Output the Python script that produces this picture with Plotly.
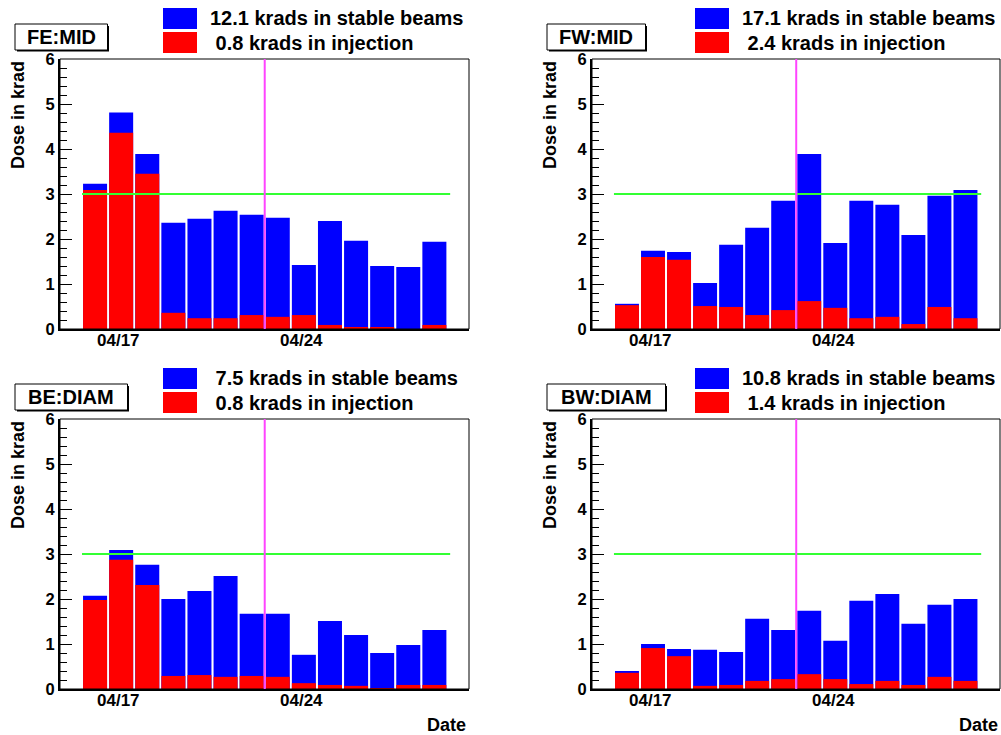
import pandas as pd
import plotly.graph_objects as go
from plotly.subplots import make_subplots

# ---------------- data ----------------
panels = ["FE:MID", "FW:MID", "BE:DIAM", "BW:DIAM"]
bin_start = ["2012-04-15 14:00", "2012-04-16 14:00", "2012-04-17 14:00", "2012-04-18 14:00",
             "2012-04-19 14:00", "2012-04-20 14:00", "2012-04-21 14:00", "2012-04-22 14:00",
             "2012-04-23 14:00", "2012-04-24 14:00", "2012-04-25 14:00", "2012-04-26 14:00",
             "2012-04-27 14:00", "2012-04-28 14:00"]

fe_total = [3.23, 4.81, 3.89, 2.36, 2.45, 2.63, 2.54, 2.47, 1.42, 2.40, 1.96, 1.40, 1.38, 1.94]
fe_inj = [3.09, 4.36, 3.45, 0.36, 0.24, 0.24, 0.31, 0.27, 0.31, 0.09, 0.04, 0.04, 0.00, 0.09]
fw_total = [0.56, 1.74, 1.71, 1.02, 1.87, 2.25, 2.85, 3.89, 1.91, 2.85, 2.76, 2.09, 2.96, 3.09]
fw_inj = [0.53, 1.60, 1.54, 0.51, 0.49, 0.31, 0.42, 0.62, 0.47, 0.24, 0.27, 0.11, 0.49, 0.24]
be_total = [2.07, 3.09, 2.76, 2.00, 2.18, 2.51, 1.67, 1.67, 0.76, 1.51, 1.20, 0.80, 0.98, 1.31]
be_inj = [1.98, 2.87, 2.31, 0.29, 0.31, 0.27, 0.29, 0.27, 0.13, 0.09, 0.07, 0.02, 0.09, 0.09]
bw_total = [0.40, 1.00, 0.89, 0.87, 0.82, 1.56, 1.31, 1.74, 1.07, 1.96, 2.11, 1.45, 1.87, 2.00]
bw_inj = [0.36, 0.91, 0.73, 0.07, 0.09, 0.18, 0.22, 0.33, 0.22, 0.11, 0.18, 0.09, 0.27, 0.18]

stable_sum = [12.1, 17.1, 7.5, 10.8]
injection_sum = [0.8, 2.4, 0.8, 1.4]

tick_dates = ["2012-04-17", "2012-04-24"]
tick_labels = ["04/17", "04/24"]
threshold = 3.0
threshold_end = "2012-04-29 16:30"
marker_time = "2012-04-22 14:00"
x_range = ["2012-04-14 17:46", "2012-04-30 09:50"]

# ---------------- figure ----------------
W, H = 1001, 735
FONT = "Liberation Sans"
BLUE, RED = "#0000ff", "#ff0000"

series = [(fe_total, fe_inj), (fw_total, fw_inj), (be_total, be_inj), (bw_total, bw_inj)]
centers = pd.to_datetime(bin_start) + pd.Timedelta(hours=12)
bar_w = 0.92 * 86400000


def px(x):
    return x / W


def py(y):
    return 1 - y / H


fig = make_subplots(rows=2, cols=2)

col_dom = [[60 / W, 469 / W], [592 / W, 1000 / W]]
row_dom = [[py(329), py(59)], [py(689), py(419)]]
box_w = [94, 100, 114, 120]

shapes = []
annotations = []
nbsp = "\u00a0"

for i, name in enumerate(panels):
    r, c = i // 2 + 1, i % 2 + 1
    tot, inj = series[i]
    fig.add_trace(go.Bar(x=centers, y=tot, width=bar_w, marker=dict(color=BLUE, line=dict(width=0)),
                         showlegend=False, hoverinfo="skip"), row=r, col=c)
    fig.add_trace(go.Bar(x=centers, y=inj, width=bar_w, marker=dict(color=RED, line=dict(width=0)),
                         showlegend=False, hoverinfo="skip"), row=r, col=c)

    sfx = "" if i == 0 else str(i + 1)
    xa, ya = "x" + sfx, "y" + sfx
    fig.layout["xaxis" + sfx].update(
        domain=col_dom[c - 1], type="date", range=x_range, showticklabels=False, automargin=False,
        ticks="", showline=True, linewidth=2, linecolor="black", showgrid=False, zeroline=False)
    fig.layout["yaxis" + sfx].update(
        domain=row_dom[r - 1], range=[0, 6], dtick=1, ticks="inside", ticklen=12, tickwidth=1,
        tickcolor="black", showline=True, linewidth=2, linecolor="black", showgrid=False, zeroline=False,
        automargin=False,
        minor=dict(ticks="inside", ticklen=7, dtick=0.2, tickcolor="black", tickwidth=1, showgrid=False),
        tickfont=dict(family=FONT, size=16.5, color="black", weight="bold"))

    dx = 0 if c == 1 else 532
    dy = 0 if r == 1 else 360

    # x tick labels
    for td, tl in zip(tick_dates, tick_labels):
        annotations.append(dict(text=tl, xref=xa, yref="paper", x=td, y=py(340 + dy),
                                xanchor="center", yanchor="middle", showarrow=False,
                                font=dict(family=FONT, size=17, color="black", weight="bold")))

    # frame
    shapes.append(dict(type="rect", xref=xa + " domain", yref=ya + " domain", x0=0, x1=1, y0=0, y1=1,
                       line=dict(color="black", width=1), layer="above"))
    # threshold line
    shapes.append(dict(type="line", xref=xa, yref=ya, x0=bin_start[0], x1=threshold_end,
                       y0=threshold, y1=threshold, line=dict(color="#33ff33", width=2), layer="above"))
    # marker line
    shapes.append(dict(type="line", xref=xa, yref=ya + " domain", x0=marker_time, x1=marker_time,
                       y0=0, y1=1, line=dict(color="#ff44ff", width=2), layer="above"))

    # title box with shadow
    bw = box_w[i]
    shapes.append(dict(type="rect", xref="paper", yref="paper",
                       x0=px(17 + dx), x1=px(15 + dx + bw), y0=py(51.5 + dy), y1=py(26 + dy),
                       fillcolor="black", line=dict(width=0)))
    shapes.append(dict(type="rect", xref="paper", yref="paper",
                       x0=px(15 + dx), x1=px(13.5 + dx + bw), y0=py(50 + dy), y1=py(24 + dy),
                       fillcolor="white", line=dict(color="black", width=1)))
    annotations.append(dict(text=name, xref="paper", yref="paper", x=px(15 + dx + bw / 2 - 1),
                            y=py(37 + dy), xanchor="center", yanchor="middle", showarrow=False,
                            font=dict(family=FONT, size=20, color="black", weight="bold")))

    # legend
    shapes.append(dict(type="rect", xref="paper", yref="paper", x0=px(163 + dx), x1=px(197 + dx),
                       y0=py(29 + dy), y1=py(8 + dy), fillcolor=BLUE, line=dict(width=0)))
    shapes.append(dict(type="rect", xref="paper", yref="paper", x0=px(163 + dx), x1=px(197 + dx),
                       y0=py(53 + dy), y1=py(32 + dy), fillcolor=RED, line=dict(width=0)))
    s1 = f"{stable_sum[i]:4.1f}".replace(" ", nbsp) + " krads in stable beams"
    s2 = f"{injection_sum[i]:4.1f}".replace(" ", nbsp) + " krads in injection"
    for txt, yy in [(s1, 18), (s2, 43)]:
        annotations.append(dict(text=txt, xref="paper", yref="paper", x=px(208 + dx), y=py(yy + dy),
                                xanchor="left", yanchor="middle", showarrow=False,
                                font=dict(family=FONT, size=20, color="black", weight="bold")))

    # y title
    annotations.append(dict(text="Dose in krad", xref="paper", yref="paper", x=px(18 + dx), y=py(59 + dy),
                            xanchor="center", yanchor="top", textangle=-90, showarrow=False,
                            font=dict(family=FONT, size=18, color="black", weight="bold")))
    if r == 2:
        annotations.append(dict(text="Date", xref="paper", yref="paper", x=px(468 + dx), y=py(725),
                                xanchor="right", yanchor="middle", showarrow=False,
                                font=dict(family=FONT, size=18, color="black", weight="bold")))

fig.update_layout(
    width=W, height=H, margin=dict(l=0, r=0, t=0, b=0, pad=0, autoexpand=False),
    barmode="overlay", paper_bgcolor="white", plot_bgcolor="white",
    shapes=shapes, annotations=annotations, showlegend=False,
    font=dict(family=FONT, color="black"),
)

post = (
    "document.documentElement.style.margin='0';"
    "document.body.style.margin='0';"
    "var gd=document.querySelector('.plotly-graph-div');"
    "gd.style.position='fixed';gd.style.left='0px';gd.style.top='0px';"
)

fig.write_html("out.html", config={"displayModeBar": False}, post_script=post)
